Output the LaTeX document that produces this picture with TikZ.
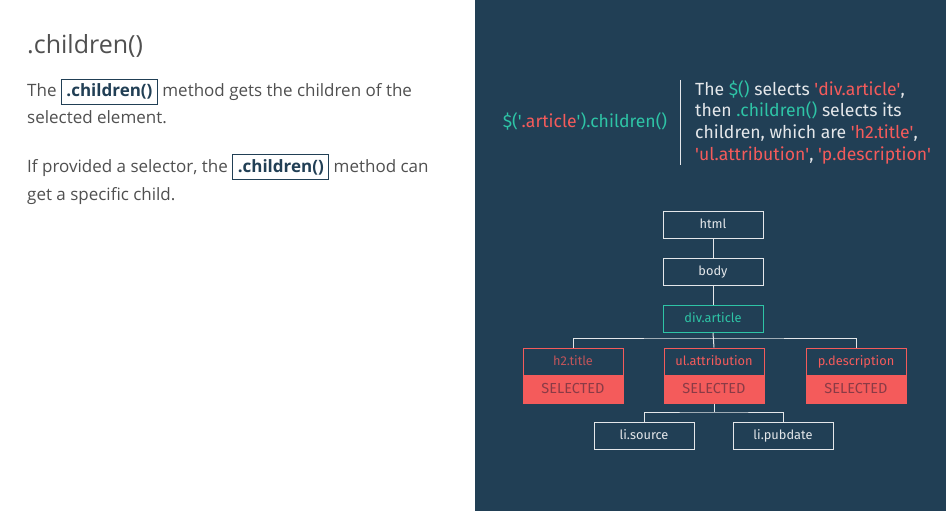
\documentclass[tikz,border=0pt]{standalone}
\usepackage{fontspec}
\setmainfont{Open Sans}
\newfontfamily\dinfont{Fira Sans}
\usetikzlibrary{positioning}
\definecolor{navy}{HTML}{213F55}
\definecolor{jqteal}{HTML}{2EC4A6}
\definecolor{jqred}{HTML}{F45B5B}
\definecolor{seltext}{HTML}{8A3B46}
\definecolor{txtgray}{HTML}{505050}
\definecolor{paper}{HTML}{E4E7EA}
\setlength\fboxsep{4.5pt}
\setlength\fboxrule{1pt}
\newcommand\q{\textquotesingle}
\newcommand\codebox[1]{\fcolorbox{navy}{white}{\textcolor{navy}{\bfseries #1}}}
\tikzset{
  para/.style={anchor=base west, inner sep=0pt, text=txtgray, font=\fontsize{17}{20}\selectfont},
  elem/.style={draw=paper, line width=1pt, minimum width=100pt, minimum height=27pt,
    inner sep=2pt, text height=9.5pt, text depth=2.5pt, text=paper,
    font=\dinfont\fontsize{12.8}{15}\selectfont},
  picked/.style={elem, draw=jqred},
  selbox/.style={elem, draw=jqred, fill=jqred, text=seltext, font=\dinfont\fontsize{14.5}{16}\selectfont},
  link/.style={draw=paper, line width=1pt},
}
\begin{document}
\begin{tikzpicture}[x=1pt, y=-1pt]
  \useasboundingbox (0,0) rectangle (946,511);
  \fill[white] (0,0) rectangle (475,511);
  \fill[navy] (475,0) rectangle (946,511);

  % left panel
  \node[para, font=\fontsize{25}{30}\selectfont] (title) at (27,54) {.children()};
  \node[para] (line1) at (27,97) {The \codebox{.children()} method gets the children of the};
  \node[para] (line2) at (27,124) {selected element.};
  \node[para] (line3) at (27,172) {If provided a selector, the \codebox{.children()} method can};
  \node[para] (line4) at (27,200) {get a specific child.};

  % code and explanation
  \node[text=jqteal, font=\dinfont\fontsize{17.6}{20}\selectfont] (call) at (585,121)
    {\$(\q\textcolor{jqred}{.article}\q).children()};
  \draw[paper, line width=1pt] (680,80) -- (680,165);
  \node[anchor=north west, align=left, inner sep=0pt, text=paper,
    font=\dinfont\fontsize{17.6}{21.7}\selectfont] (note) at (695,80)
    {The \textcolor{jqteal}{\$()} selects \textcolor{jqred}{\q div.article\q},\\
     then \textcolor{jqteal}{.children()} selects its\\
     children, which are \textcolor{jqred}{\q h2.title\q},\\
     \textcolor{jqred}{\q ul.attribution\q}, \textcolor{jqred}{\q p.description\q}};

  % tree
  \node[elem] (html) at (713,225) {html};
  \node[elem, below=19pt of html] (body) {body};
  \node[elem, draw=jqteal, text=jqteal, below=19pt of body] (div) {div.article};
  \foreach \n/\x/\t/\c in {h2/573/h2.title/jqred!75!navy, ul/714/ul.attribution/jqred, p/856/p.description/jqred} {
    \node[picked, text=\c] (\n) at (\x,361.5) {\t};
    \node[selbox, below=0pt of \n] (\n-sel) {SELECTED};
  }
  \node[elem] (src) at (644,435.5) {li.source};
  \node[elem] (pub) at (783,435.5) {li.pubdate};

  \coordinate (fork) at (div.south |- 0,338);
  \coordinate (fork2) at (ul-sel.south |- 0,412);
  \draw[link] (html) -- (body);
  \draw[link] (body) -- (div);
  \draw[link] (div.south) -- (ul.north);
  \draw[link] (h2.north) |- (fork) -| (p.north);
  \draw[link] (ul-sel.south) -- (fork2);
  \draw[link] (src.north) |- (fork2) -| (pub.north);
\end{tikzpicture}
\end{document}
